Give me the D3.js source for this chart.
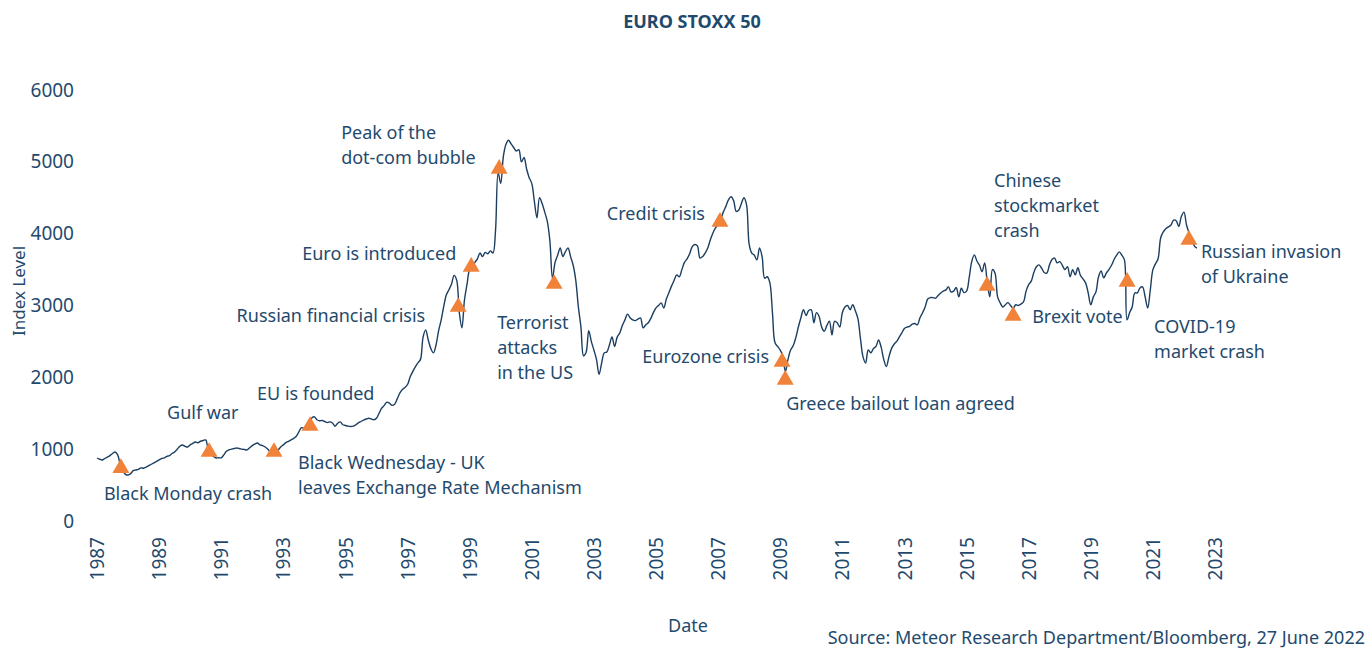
<!DOCTYPE html>
<html>
<head>
<meta charset="utf-8">
<script src="https://cdn.jsdelivr.net/npm/d3@7"></script>
<style>
  body { margin: 0; background: #fff; }
  text { font-family: "Noto Sans", sans-serif; fill: #1f4a6d; }
</style>
</head>
<body>
<svg id="chart"></svg>
<script>
// month-end index levels, Jan 1987 .. Jun 2022
const startYear = 1987;
const monthlyClose = [
  877, 860, 850, 870, 890, 910, 940, 960, 920, 780, 700, 650,          // 1987
  640, 660, 700, 710, 720, 740, 735, 750, 770, 790, 810, 830,          // 1988
  850, 870, 880, 900, 910, 940, 960, 1000, 1040, 1058, 1040, 1030,     // 1989
  1060, 1080, 1100, 1090, 1110, 1120, 1128, 990, 930, 900, 877, 880,   // 1990
  880, 920, 970, 990, 1000, 1010, 1016, 1010, 1000, 995, 990, 1020,    // 1991
  1050, 1070, 1086, 1060, 1050, 1030, 1000, 960, 930, 960, 990, 1030,  // 1992
  1060, 1090, 1110, 1130, 1150, 1180, 1240, 1300, 1290, 1340, 1380, 1435, // 1993
  1450, 1410, 1395, 1400, 1385, 1370, 1380, 1365, 1320, 1360, 1380, 1340, // 1994
  1330, 1320, 1315, 1320, 1340, 1365, 1385, 1405, 1420, 1430, 1420, 1410, // 1995
  1430, 1500, 1570, 1610, 1655, 1640, 1610, 1625, 1700, 1780, 1830, 1860, // 1996
  1900, 2005, 2080, 2145, 2200, 2250, 2560, 2660, 2520, 2400, 2340, 2450, // 1997
  2650, 2800, 2990, 3150, 3220, 3300, 3420, 3350, 2900, 2690, 3080, 3300, // 1998
  3500, 3530, 3600, 3650, 3730, 3680, 3740, 3720, 3760, 3730, 4050, 4850, // 1999
  4700, 5070, 5240, 5300, 5250, 5200, 5150, 5170, 5000, 5060, 4900, 4780, // 2000
  4700, 4450, 4220, 4500, 4420, 4300, 4170, 3900, 3380, 3600, 3700, 3800, // 2001
  3680, 3750, 3800, 3680, 3560, 3350, 2980, 2700, 2300, 2350, 2650, 2500, // 2002
  2380, 2250, 2040, 2200, 2340, 2354, 2450, 2563, 2430, 2560, 2618, 2720, // 2003
  2800, 2880, 2830, 2800, 2790, 2810, 2827, 2690, 2730, 2760, 2820, 2900, // 2004
  2966, 3000, 3036, 2966, 3090, 3180, 3270, 3350, 3426, 3400, 3500, 3600, // 2005
  3650, 3720, 3820, 3850, 3830, 3660, 3680, 3730, 3800, 3914, 4010, 4080, // 2006
  4130, 4200, 4300, 4380, 4470, 4513, 4460, 4310, 4330, 4420, 4500, 4400, // 2007
  3850, 3730, 3700, 3635, 3800, 3680, 3380, 3400, 3315, 2900, 2480, 2430, // 2008
  2380, 2300, 2080, 2250, 2380, 2440, 2550, 2700, 2830, 2940, 2860, 2930, // 2009
  2940, 2760, 2900, 2850, 2700, 2640, 2720, 2780, 2590, 2780, 2760, 2700, // 2010
  2900, 2980, 3000, 2940, 3010, 2930, 2820, 2540, 2284, 2200, 2380, 2340, // 2011
  2400, 2430, 2520, 2420, 2250, 2150, 2284, 2400, 2460, 2500, 2560, 2620, // 2012
  2680, 2700, 2710, 2740, 2750, 2730, 2830, 2900, 2980, 3090, 3110, 3110, // 2013
  3100, 3140, 3175, 3200, 3217, 3260, 3190, 3200, 3250, 3120, 3240, 3180, // 2014
  3200, 3384, 3610, 3705, 3620, 3560, 3470, 3593, 3320, 3120, 3500, 3450, // 2015
  3120, 3036, 2980, 3010, 3040, 3000, 2960, 3010, 3000, 3020, 3050, 3200, // 2016
  3290, 3340, 3460, 3540, 3565, 3520, 3460, 3450, 3560, 3640, 3660, 3593, // 2017
  3610, 3560, 3500, 3540, 3400, 3500, 3426, 3525, 3420, 3370, 3315, 3175, // 2018
  3010, 3120, 3190, 3400, 3480, 3384, 3450, 3500, 3560, 3640, 3700, 3746, // 2019
  3700, 3635, 2800, 2900, 2980, 3175, 3175, 3245, 3260, 3120, 2966, 3217, // 2020
  3500, 3580, 3650, 3940, 4025, 4070, 4095, 4120, 4190, 4180, 4100, 4240, // 2021
  4300, 4120, 4010, 3930, 3830, 3800                                      // 2022
];

const yTicks = [0, 1000, 2000, 3000, 4000, 5000, 6000];
const xTicks = [1987, 1989, 1991, 1993, 1995, 1997, 1999, 2001, 2003, 2005,
                2007, 2009, 2011, 2013, 2015, 2017, 2019, 2021, 2023];

// events: label lines, date (decimal year), index level
const eventLabels = [
  ["Black Monday crash"],
  ["Gulf war"],
  ["Black Wednesday - UK", "leaves Exchange Rate Mechanism"],
  ["EU is founded"],
  ["Russian financial crisis"],
  ["Euro is introduced"],
  ["Peak of the", "dot-com bubble"],
  ["Terrorist", "attacks", "in the US"],
  ["Credit crisis"],
  ["Eurozone crisis"],
  ["Greece bailout loan agreed"],
  ["Chinese", "stockmarket", "crash"],
  ["Brexit vote"],
  ["COVID-19", "market crash"],
  ["Russian invasion", "of Ukraine"]
];
const eventDates = [1987.77, 1990.61, 1992.70, 1993.86, 1998.63, 1999.05, 1999.95,
                    2001.72, 2007.06, 2009.06, 2009.16, 2015.66, 2016.50, 2020.17, 2022.16];
const eventValues = [738, 961, 961, 1323, 2980, 3538, 4903,
                     3300, 4164, 2214, 1964, 3273, 2855, 3329, 3914];

// label placement relative to the marker: dx, dy of first line, anchor
const labelLayout = [
  [-17, 25, "start"], [-42, -40, "start"], [24, 10, "start"], [-53, -33, "start"],
  [-33, 8, "end"], [-15, -14, "end"], [-158, -37, "start"], [-57, 38, "start"],
  [-15, -9, "end"], [-13, -6, "end"], [1, 23, "start"], [7, -106, "start"],
  [19, 0, "start"], [27, 44, "start"], [12, 11, "start"]
];

const width = 1371, height = 648;
const lineColor = "#1b3e61", markColor = "#f0823a";

const svg = d3.select("#chart").attr("width", width).attr("height", height);

const x = d3.scaleLinear().domain([1987, 2023]).range([97, 1215]);
const y = d3.scaleLinear().domain([0, 6000]).range([521, 90]);

// title
svg.append("text")
  .attr("x", 692).attr("y", 21)
  .attr("text-anchor", "middle").attr("dominant-baseline", "central")
  .style("font-size", "18px").style("font-weight", "bold")
  .text("EURO STOXX 50");

// y axis
const yAxis = svg.append("g")
  .attr("transform", "translate(74,0)")
  .call(d3.axisLeft(y).tickValues(yTicks).tickSize(0).tickPadding(0).tickFormat(d3.format("d")));
yAxis.select(".domain").remove();
yAxis.selectAll("text").style("font-size", "19px");

// x axis, rotated year labels
const xAxis = svg.append("g")
  .attr("transform", "translate(0,528)")
  .call(d3.axisBottom(x).tickValues(xTicks).tickSize(0).tickFormat(d3.format("d")));
xAxis.select(".domain").remove();
xAxis.selectAll("text")
  .style("font-size", "19px")
  .attr("transform", "rotate(-90)")
  .attr("x", -9).attr("y", 0).attr("dy", "0.35em")
  .attr("text-anchor", "end");

// axis titles
svg.append("text")
  .attr("transform", "translate(18,291) rotate(-90)")
  .attr("text-anchor", "middle").attr("dominant-baseline", "central")
  .style("font-size", "17px")
  .text("Index Level");

svg.append("text")
  .attr("x", 688).attr("y", 625)
  .attr("text-anchor", "middle").attr("dominant-baseline", "central")
  .style("font-size", "18px")
  .text("Date");

svg.append("text")
  .attr("x", 1365).attr("y", 637)
  .attr("text-anchor", "end").attr("dominant-baseline", "central")
  .style("font-size", "18px")
  .text("Source: Meteor Research Department/Bloomberg, 27 June 2022");

// index line
const line = d3.line()
  .x((d, i) => x(startYear + i / 12))
  .y(d => y(d))
  .curve(d3.curveCatmullRom.alpha(0.5));

svg.append("path")
  .datum(monthlyClose)
  .attr("fill", "none")
  .attr("stroke", lineColor)
  .attr("stroke-width", 1.4)
  .attr("d", line);

// event markers
const events = eventLabels.map((lab, i) => ({
  lines: lab, date: eventDates[i], value: eventValues[i], layout: labelLayout[i]
}));

svg.selectAll(".marker")
  .data(events)
  .join("path")
  .attr("class", "marker")
  .attr("transform", d => `translate(${x(d.date)},${y(d.value)})`)
  .attr("d", d3.symbol().type(d3.symbolTriangle).size(125))
  .attr("fill", markColor);

const labels = svg.selectAll(".event-label")
  .data(events)
  .join("text")
  .attr("class", "event-label")
  .attr("text-anchor", d => d.layout[2])
  .style("font-size", "18px");

labels.selectAll("tspan")
  .data(d => d.lines.map((t, k) => ({ t, k, d })))
  .join("tspan")
  .attr("x", e => x(e.d.date) + e.d.layout[0])
  .attr("y", e => y(e.d.value) + e.d.layout[1] + e.k * 25)
  .attr("dominant-baseline", "central")
  .text(e => e.t);
</script>
</body>
</html>
